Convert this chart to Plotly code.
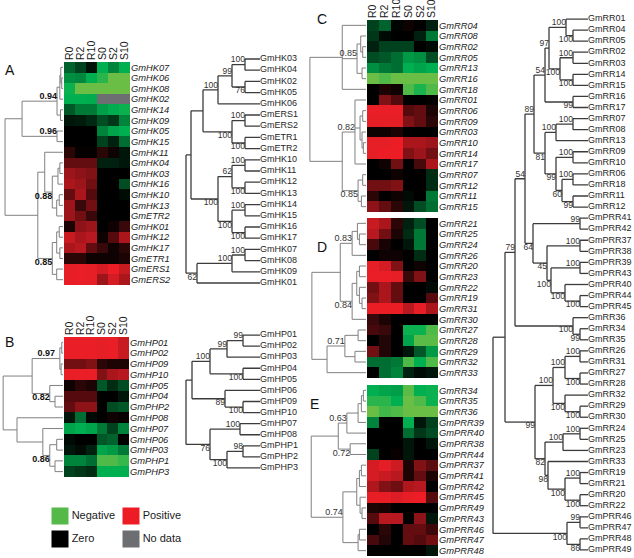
import numpy as np
import plotly.graph_objects as go

W, H = 634, 558
FONT = "Arial, Liberation Sans, sans-serif"
nan = float("nan")

cols = ["R0", "R2", "R10", "S0", "S2", "S10"]

genes_A = ["GmHK07", "GmHK06", "GmHK08", "GmHK02", "GmHK14", "GmHK09", "GmHK05", "GmHK15",
           "GmHK11", "GmHK04", "GmHK03", "GmHK16", "GmHK10", "GmHK13", "GmETR2", "GmHK01",
           "GmHK12", "GmHK17", "GmETR1", "GmERS1", "GmERS2"]
vals_A = [
    [-0.45, -0.3, -0.08, -0.8, -0.6, -0.8],
    [-0.65, -0.62, -0.8, -0.88, -1, -1],
    [-0.82, -1, -1, -1, -1, -1],
    [-0.8, -0.8, -0.78, nan, nan, nan],
    [-0.4, -0.55, -0.55, -0.72, -0.78, -0.82],
    [-0.1, -0.12, -0.18, -0.35, -0.25, -0.6],
    [0, 0, 0, -0.6, -0.75, -0.8],
    [0, 0, 0, -0.3, -0.15, -0.5],
    [0.15, 0.02, 0.02, 0.15, 0.05, -0.1],
    [0.35, 0.35, 0.35, -0.15, -0.15, -0.1],
    [0.55, 0.5, 0.45, 0, 0, 0],
    [0.6, 0.55, 0.4, 0, 0, -0.35],
    [0.35, 0.6, 0.3, 0, 0, -0.05],
    [0.55, 0.2, 0.4, 0, 0, 0],
    [0.55, 0.4, 0.2, 0, 0, 0],
    [0.1, 0.5, 0.55, 0, 0.05, 0.2],
    [0.7, 0.6, 0.65, 0.05, 0.3, 0.6],
    [0.6, 0.65, 0.35, 0.2, 0.05, 0.15],
    [0.15, 0.15, 0.05, 0.05, 0.05, 0.1],
    [0.85, 0.9, 0.85, 0.75, 0.95, 0.7],
    [0.88, 0.9, 0.85, 0.55, 0.75, 0.6],
]

genes_B = ["GmHP01", "GmHP02", "GmHP09", "GmHP10", "GmHP05", "GmHP04", "GmPHP2", "GmHP08",
           "GmHP07", "GmHP06", "GmHP03", "GmPHP1", "GmPHP3"]
vals_B = [
    [0.9, 0.9, 0.9, 0.85, 0.9, 0.7],
    [0.9, 0.9, 0.9, 0.85, 0.9, 0.7],
    [0.4, 0.4, 0.45, 0.15, 0.1, 0.1],
    [0.9, 0.9, 0.9, 0.45, 0.6, 0.65],
    [0.05, 0.15, 0.1, -0.4, -0.2, -0.35],
    [0.3, 0.3, 0.3, 0, 0, -0.1],
    [0.35, 0.5, 0.5, 0, -0.35, -0.4],
    [-0.1, -0.5, -0.05, 0, 0.05, 0.03],
    [-0.75, -0.8, -0.75, -0.55, -0.3, -0.6],
    [-0.05, 0, 0, -0.4, -0.45, 0],
    [-0.1, -0.05, -0.15, -0.75, -0.7, -0.55],
    [-0.6, -0.6, -0.5, -0.95, -0.95, -0.9],
    [-0.3, -0.25, -0.2, -0.8, -0.8, -0.8],
]

genes_C = ["GmRR04", "GmRR08", "GmRR02", "GmRR05", "GmRR13", "GmRR16", "GmRR18", "GmRR01",
           "GmRR06", "GmRR09", "GmRR03", "GmRR10", "GmRR14", "GmRR17", "GmRR07", "GmRR12",
           "GmRR11", "GmRR15"]
vals_C = [
    [-0.3, -0.45, -0.02, 0.05, 0, -0.15],
    [-0.25, -0.05, 0, 0, -0.15, -0.55],
    [-0.15, -0.3, -0.3, -0.3, 0, -0.05],
    [-0.35, -0.4, -0.5, -0.7, -0.65, -0.35],
    [-0.65, -0.55, -0.5, -0.8, -0.75, -0.8],
    [-1, -0.95, -1, -1, -1, -1],
    [0, 0.1, 0.05, -0.95, -0.85, -0.95],
    [0, 0.45, 0.3, 0, 0, 0.02],
    [0.9, 0.9, 0.9, 0.3, 0.35, 0.1],
    [0.85, 0.85, 0.85, 0.45, 0.35, 0.15],
    [0.05, 0.05, 0.1, 0, 0, 0],
    [0.85, 0.85, 0.95, 0.6, 0.6, 0.55],
    [0.85, 0.95, 0.95, 0.45, 0.55, 0.4],
    [0, 0.05, 0.4, 0, 0.25, 0.6],
    [0, 0, 0.05, 0, 0, -0.2],
    [0.4, 0.4, 0.45, 0, 0, -0.2],
    [0.15, 0, 0.05, -0.05, 0, -0.55],
    [0.5, 0.35, 0.15, -0.1, -0.35, -0.5],
]

genes_D = ["GmRR21", "GmRR25", "GmRR24", "GmRR26", "GmRR20", "GmRR23", "GmRR22", "GmRR19",
           "GmRR31", "GmRR30", "GmRR27", "GmRR28", "GmRR29", "GmRR32", "GmRR33"]
vals_D = [
    [0.7, 0.6, 0.15, -0.15, -0.35, 0],
    [0.65, 0.4, 0.1, -0.2, -0.55, 0],
    [0.25, 0.08, 0, -0.1, -0.55, 0],
    [0, 0.05, 0.05, 0, -0.2, 0],
    [0.85, 0.75, 0.45, 0, 0.05, 0],
    [0.9, 0.9, 0.88, 0.2, 0.45, 0],
    [0.4, 0.6, 0.35, 0, 0, -0.05],
    [0.45, 0.6, 0.35, 0, 0, 0.3],
    [0.92, 0.92, 0.92, 0.65, 0.88, 0.6],
    [0.2, 0.1, 0, 0, 0, 0],
    [0.25, 0.2, 0, -0.82, -0.82, -0.95],
    [0, 0.12, 0, -0.75, -0.97, -0.97],
    [0.4, 0.12, 0, -0.1, -0.4, -0.7],
    [-0.5, -0.5, -0.55, -0.95, -0.8, -0.95],
    [0, -0.5, -0.6, -0.15, -0.05, -0.1],
]

genes_E = ["GmRR34", "GmRR35", "GmRR36", "GmPRR39", "GmPRR40", "GmPRR38", "GmPRR44", "GmPRR37",
           "GmPRR41", "GmPRR42", "GmPRR45", "GmPRR49", "GmPRR43", "GmPRR46", "GmPRR47", "GmPRR48"]
vals_E = [
    [-0.8, -0.75, -0.72, -0.97, -0.8, -0.82],
    [-0.88, -0.88, -0.8, -1, -0.95, -0.82],
    [-1, -0.92, -0.95, -1, -1, -1],
    [-0.6, 0, 0, -0.8, -0.1, -0.3],
    [0, 0, 0, -0.5, -0.25, -0.35],
    [0, 0, 0, -0.1, 0, -0.1],
    [-0.3, 0, 0.03, -0.1, 0, 0],
    [0.75, 0.8, 0.72, 0.1, 0.45, 0.32],
    [0.75, 0.7, 0.65, 0.1, 0.35, 0.1],
    [0.62, 0.45, 0.38, 0.62, 0.65, 0],
    [0.88, 0.88, 0.78, 0.88, 0.95, 0.3],
    [0.1, 0.08, 0, 0, 0, 0],
    [0.3, 0.65, 0.65, 0, 0.5, -0.1],
    [0, 0.15, 0, 0.35, 0.35, 0.22],
    [0.25, 0.12, 0, 0.35, 0.3, 0.4],
    [0, 0, 0, 0, 0, -0.1],
]


# ---- tree structures: (node height/depth, support label, label side, children) ----
def N(h, lab, pos, *kids):
    return (h, lab, pos, list(kids))


dend_A = N(0.92, "", "",
           N(0.65, "", "",
             N(0.095, "0.94", "above",
               N(0.05, "", "", N(0.035, "", "", 0, N(0.02, "", "", 1, 2)), 3),
               N(0.04, "", "", 4, 5)),
             N(0.095, "0.96", "above", 6, 7)),
           N(0.40, "", "",
             N(0.29, "", "", 8,
               N(0.17, "0.88", "below",
                 N(0.08, "", "", N(0.05, "", "", 9, 10), 11),
                 N(0.1, "", "", N(0.06, "", "", 12, 13), 14))),
             N(0.17, "0.85", "below",
               N(0.1, "", "", N(0.06, "", "", 15, 16), N(0.05, "", "", 17, 18)),
               N(0.1, "", "", 19, 20))))

dend_B = N(0.95, "", "",
           N(0.49, "", "",
             N(0.127, "0.97", "above", N(0.05, "", "", N(0.02, "", "", 0, 1), N(0.03, "", "", 2, 3))),
             N(0.21, "0.82", "below", 4, N(0.127, "", "", 5, 6))),
           N(0.73, "", "", 7,
             N(0.32, "", "", 8,
               N(0.21, "0.86", "below", N(0.1, "", "", 9, 10), N(0.127, "", "", 11, 12)))))

dend_C = N(0.85, "", "",
           N(0.36, "", "", 0,
             N(0.136, "0.85", "above",
               N(0.08, "", "", 1, N(0.05, "", "", 2, 3)), N(0.06, "", "", 4, 5)),
             6),
           N(0.36, "", "",
             N(0.167, "0.82", "above", 7,
               N(0.09, "", "", N(0.05, "", "", 8, 9), N(0.06, "", "", 10, N(0.04, "", "", 11, 12))),
               13),
             N(0.12, "0.85", "below", N(0.05, "", "", 14, 15), N(0.07, "", "", 16, 17))))

dend_D = N(0.82, "", "",
           N(0.39, "", "",
             N(0.21, "0.83", "above", N(0.13, "", "", 0, N(0.1, "", "", 1, 2)), 3),
             N(0.21, "0.84", "below",
               N(0.14, "", "", N(0.1, "", "", 4, 5), N(0.1, "", "", 6, N(0.06, "", "", 7, 8))), 9)),
           N(0.59, "", "",
             N(0.32, "0.71", "above", N(0.12, "", "", 10, 11), N(0.167, "", "", 12, 13)),
             14))

dend_E = N(0.83, "", "",
           N(0.42, "", "",
             N(0.29, "0.63", "above",
               N(0.12, "", "", N(0.07, "", "", N(0.04, "", "", 0, 1), 2), 3), 4),
             N(0.24, "0.72", "below", 5, 6)),
           N(0.35, "0.74", "above",
             N(0.14, "", "", N(0.1, "", "", N(0.07, "", "", 7, 8), 9),
               N(0.09, "", "", 10, N(0.06, "", "", 11, 12))),
             N(0.12, "", "", N(0.1, "", "", 13, 14), 15)))

tree_A = N(0, "", "",
           N(5, "", "",
             N(17, "", "",
               N(32, "100", "above",
                 N(46, "99", "above",
                   N(59, "100", "above", "GmHK03", "GmHK04"),
                   N(59, "76", "below", "GmHK02", "GmHK05")),
                 "GmHK06"),
               N(46, "100", "below",
                 N(59, "100", "above", "GmERS1", "GmERS2"),
                 N(59, "100", "below", "GmETR1", "GmETR2"))),
             N(32, "100", "below",
               N(46, "62", "above",
                 N(59, "100", "above", "GmHK10", "GmHK11"),
                 N(59, "100", "below", "GmHK12", "GmHK13")),
               N(46, "100", "below",
                 N(59, "100", "above", "GmHK14", "GmHK15"),
                 N(59, "100", "below", "GmHK16", "GmHK17")))),
           N(11, "62", "below",
             N(46, "100", "above", N(59, "100", "above", "GmHK07", "GmHK08"), "GmHK09"),
             "GmHK01"))

tree_B = N(0, "", "",
           N(6, "", "",
             N(24, "100", "above",
               N(41, "99", "above", N(57, "99", "above", "GmHP01", "GmHP02"), "GmHP03"),
               N(57, "100", "below", "GmHP04", "GmHP05")),
             N(39, "89", "below", "GmHP06", N(57, "100", "below", "GmHP09", "GmHP10"))),
           N(24, "76", "below",
             N(54, "100", "above", "GmHP07", "GmHP08"),
             N(41, "100", "below", N(57, "98", "above", "GmPHP1", "GmPHP2"), "GmPHP3")))

tree_RR = N(0, "", "",
            N(12, "", "",
              N(22, "79", "above",
                N(32, "54", "above",
                  N(41, "89", "above",
                    N(52, "54", "above",
                      N(56, "97", "above",
                        N(73, "100", "above", "GmRR01", N(80, "100", "below", "GmRR04", "GmRR05")),
                        N(67, "100", "below",
                          N(80, "100", "above", "GmRR02", "GmRR03"),
                          N(80, "100", "below", "GmRR14", "GmRR15"))),
                      N(80, "99", "below", "GmRR16", "GmRR17")),
                    N(52, "81", "below",
                      N(63, "100", "above", N(80, "100", "above", "GmRR07", "GmRR08"), "GmRR13"),
                      N(63, "99", "below",
                        N(80, "100", "above", "GmRR09", "GmRR10"),
                        N(69, "60", "below",
                          N(80, "100", "above", "GmRR06", "GmRR18"),
                          N(80, "99", "below", "GmRR11", "GmRR12"))))),
                  N(40, "64", "below",
                    N(87, "99", "above", "GmPRR41", "GmPRR42"),
                    N(54, "45", "below",
                      N(87, "100", "above", "GmPRR37", "GmPRR38"),
                      N(58, "100", "below",
                        N(87, "100", "above", "GmPRR39", "GmPRR43"),
                        N(72, "100", "below", "GmPRR40",
                          N(87, "100", "below", "GmPRR44", "GmPRR45")))))),
                N(80, "100", "below", "GmRR36", N(87, "99", "below", "GmRR34", "GmRR35"))),
              N(42, "99", "below",
                N(60, "100", "above",
                  N(72, "100", "above",
                    N(87, "100", "above", "GmRR26", "GmRR31"),
                    N(87, "100", "below", "GmRR27", "GmRR28")),
                  N(72, "100", "below", "GmRR32", N(87, "100", "below", "GmRR29", "GmRR30"))),
                N(52, "82", "below",
                  N(70, "100", "above", N(87, "100", "above", "GmRR24", "GmRR25"), "GmRR23"),
                  N(55, "98", "below", "GmRR33",
                    N(72, "100", "below",
                      N(87, "100", "above", "GmRR19", "GmRR21"),
                      N(87, "100", "below", "GmRR20", "GmRR22")))))),
            N(74, "100", "below",
              N(87, "99", "above", "GmPRR46", "GmPRR47"),
              N(87, "86", "below", "GmPRR48", "GmPRR49")))

legend_labels = ["Negative", "Positive", "Zero", "No data"]
legend_colors = ["#54b948", "#ed1c24", "#000000", "#6d6e71"]
legend_col = [0, 1, 0, 1]
legend_row = [0, 0, 1, 1]

panel_letters = ["A", "B", "C", "D", "E"]

# ---- helpers ----
COLORSCALE = [[0.0, "#6abd45"], [0.1, "#00b050"], [0.5, "#000000"], [0.9, "#e31e26"], [1.0, "#ef1d25"]]
GRAY = "#6d6e71"


def dom_x(a, b):
    return [a / W, b / W]


def dom_y(top, bot):
    return [1 - bot / H, 1 - top / H]


def sfx(i):
    return "" if i == 1 else str(i)


def base_axis(**kw):
    d = dict(showgrid=False, zeroline=False, showline=False, ticks="", ticklen=0,
             showticklabels=False, fixedrange=True)
    d.update(kw)
    return d


def layout_tree(root, leaf_depth):
    xs, ys = [], []
    lx, ly, lt, lp = [], [], [], []
    leaves = []

    def rec(node, parent_d):
        if not isinstance(node, tuple):
            y = node if isinstance(node, int) else len(leaves)
            leaves.append(node)
            d = leaf_depth
        else:
            d, lab, pos, kids = node
            cy = [rec(k, d) for k in kids]
            y = (cy[0] + cy[-1]) / 2.0
            xs.extend([d, d, None])
            ys.extend([cy[0], cy[-1], None])
            if lab:
                lx.append(d)
                ly.append(y)
                lt.append(lab)
                lp.append("top left" if pos == "above" else "bottom left")
        if parent_d is not None:
            xs.extend([parent_d, d, None])
            ys.extend([y, y, None])
        return y

    rec(root, None)
    return xs, ys, (lx, ly, lt, lp), leaves


fig = go.Figure()
LAY = {}


def add_heatmap(i, genes, vals, xpx, ypx, headers):
    z = np.array(vals, dtype=float)
    xa, ya = "x" + sfx(i), "y" + sfx(i)
    fig.add_trace(go.Heatmap(z=z, x=cols, y=genes, colorscale=COLORSCALE, zmin=-1, zmax=1,
                             showscale=False, xaxis=xa, yaxis=ya, hoverinfo="skip"))
    miss = np.where(np.isnan(z), 1.0, np.nan)
    if np.isfinite(miss).any():
        fig.add_trace(go.Heatmap(z=miss, x=cols, y=genes, colorscale=[[0, GRAY], [1, GRAY]],
                                 zmin=0, zmax=1, showscale=False, xaxis=xa, yaxis=ya,
                                 hoverinfo="skip"))
    LAY["xaxis" + sfx(i)] = base_axis(domain=dom_x(*xpx), anchor=ya, side="top", tickangle=-90,
                                      tickmode="array", tickvals=cols, ticktext=cols,
                                      showticklabels=headers, ticklabelstandoff=1,
                                      tickfont=dict(size=10.5, family=FONT, color="#1a1a1a"))
    LAY["yaxis" + sfx(i)] = base_axis(domain=dom_y(*ypx), anchor=xa, side="right",
                                      autorange="reversed", tickmode="array", tickvals=genes,
                                      ticktext=["<i>%s</i>" % g for g in genes],
                                      showticklabels=True, ticklabelstandoff=0,
                                      tickfont=dict(size=9.3, family=FONT, color="#1a1a1a"))


def add_tree(i, root, leaf_depth, xpx, xrange, ypx, line_color, line_width,
             lab_size, lab_color, bold, leaf_labels):
    xs, ys, (lx, ly, lt, lp), leaves = layout_tree(root, leaf_depth)
    n = len(leaves)
    xa, ya = "x" + sfx(i), "y" + sfx(i)
    fig.add_trace(go.Scatter(x=xs, y=ys, mode="lines", xaxis=xa, yaxis=ya,
                             line=dict(color=line_color, width=line_width),
                             hoverinfo="skip", cliponaxis=False))
    if lt:
        fig.add_trace(go.Scatter(x=lx, y=ly, mode="text", xaxis=xa, yaxis=ya,
                                 text=[("<b>%s</b>" % t) if bold else t for t in lt],
                                 textposition=lp, cliponaxis=False, hoverinfo="skip",
                                 textfont=dict(size=lab_size, color=lab_color, family=FONT)))
    if leaf_labels:
        fig.add_trace(go.Scatter(x=[leaf_depth] * n, y=list(range(n)), mode="text", text=leaves,
                                 textposition="middle right", xaxis=xa, yaxis=ya,
                                 cliponaxis=False, hoverinfo="skip",
                                 textfont=dict(size=9, family=FONT, color="#262626")))
    LAY["xaxis" + sfx(i)] = base_axis(domain=dom_x(*xpx), anchor=ya, range=xrange)
    LAY["yaxis" + sfx(i)] = base_axis(domain=dom_y(*ypx), anchor=xa, range=[n - 0.5, -0.5])


# heatmaps
add_heatmap(1, genes_A, vals_A, (64, 130), (62, 285), True)
add_heatmap(2, genes_B, vals_B, (64, 129), (337, 477), True)
add_heatmap(3, genes_C, vals_C, (367, 438), (20, 212), True)
add_heatmap(4, genes_D, vals_D, (367, 438), (218, 378), False)
add_heatmap(5, genes_E, vals_E, (367, 438), (385, 556), False)

# expression dendrograms (height axis reversed)
DG = "#808080"
add_tree(6, dend_A, 0, (0, 63), [1, 0], (62, 285), DG, 1, 9, "#111", True, False)
add_tree(7, dend_B, 0, (0, 63), [1, 0], (337, 477), DG, 1, 9, "#111", True, False)
add_tree(8, dend_C, 0, (300, 366), [1, 0], (20, 212), DG, 1, 9, "#333", False, False)
add_tree(9, dend_D, 0, (300, 366), [1, 0], (218, 378), DG, 1, 9, "#333", False, False)
add_tree(10, dend_E, 0, (300, 366), [1, 0], (385, 556), DG, 1, 9, "#333", False, False)

# phylogenetic trees
TG = "#3c3c3c"
add_tree(11, tree_A, 74, (180, 261), [-6, 75], (53.4, 288.6), TG, 1.3, 8.5, "#333", False, True)
add_tree(12, tree_B, 74, (180, 261), [-6, 75], (329.5, 473.5), TG, 1.3, 8.5, "#333", False, True)
add_tree(13, tree_RR, 95, (487, 589), [-6, 96], (13.5, 555.5), TG, 1.3, 8.5, "#333", False, True)

# legend
fig.add_trace(go.Scatter(x=legend_col, y=legend_row, mode="markers+text", xaxis="x14", yaxis="y14",
                         marker=dict(symbol="square", size=17, color=legend_colors, line=dict(width=0)),
                         text=legend_labels, textposition="middle right", cliponaxis=False,
                         textfont=dict(size=11, family=FONT, color="#1a1a1a"), hoverinfo="skip"))
LAY["xaxis14"] = base_axis(domain=dom_x(24.5, 166.5), anchor="y14", range=[-0.5, 1.5])
LAY["yaxis14"] = base_axis(domain=dom_y(504.5, 550.5), anchor="x14", range=[1.5, -0.5])

# panel letters
letter_pos = [(10, 70), (9, 342), (322, 19), (322, 247), (314, 404)]
annots = []
for t, (px, py) in zip(panel_letters, letter_pos):
    annots.append(dict(text=t, x=px / W, y=1 - py / H, xref="paper", yref="paper",
                       xanchor="center", yanchor="middle", showarrow=False,
                       font=dict(size=14, family=FONT, color="#111")))

fig.update_layout(width=W, height=H, margin=dict(l=0, r=0, t=0, b=0),
                  paper_bgcolor="white", plot_bgcolor="white", showlegend=False,
                  annotations=annots, **LAY)

fig.write_html("out.html", config={"displayModeBar": False},
               post_script="document.body.style.margin='0';document.body.style.overflow='hidden';")
